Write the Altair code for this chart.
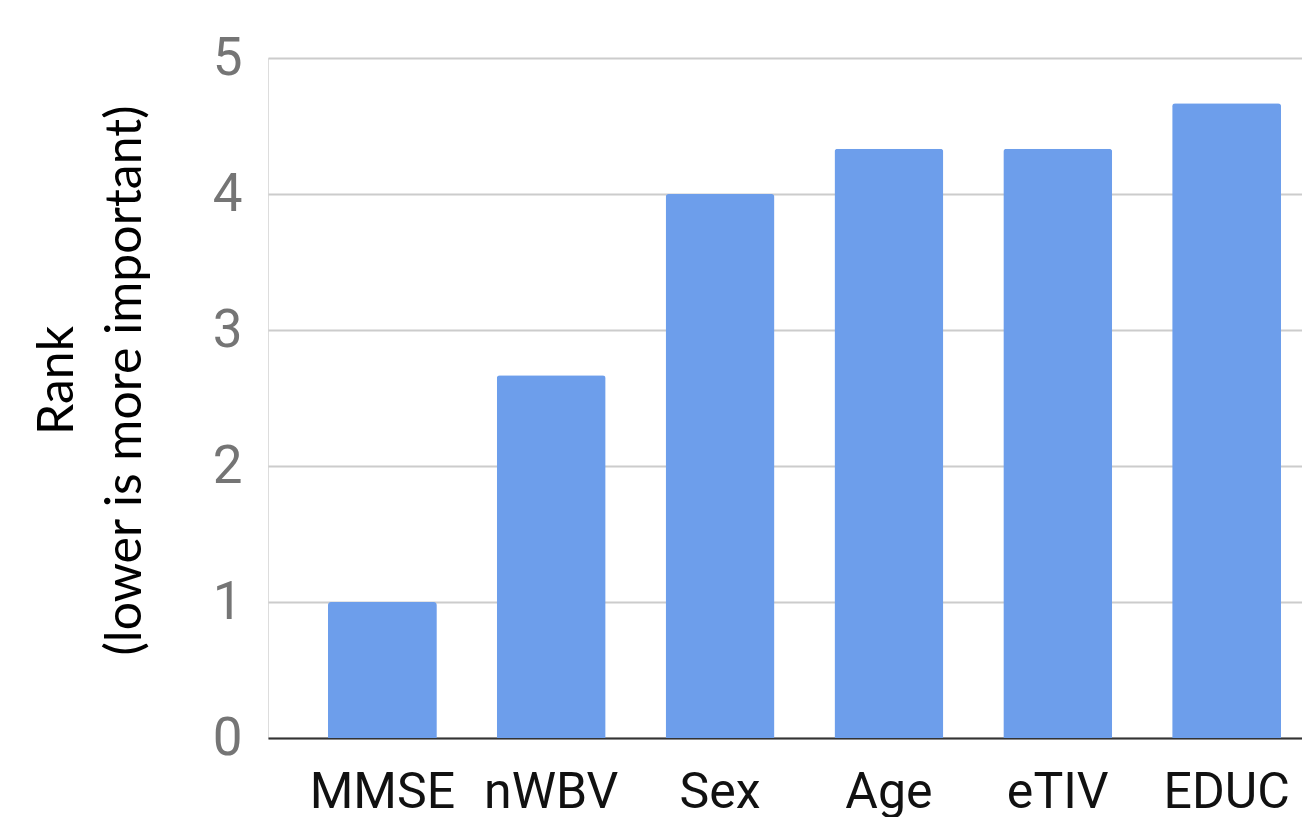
import altair as alt
import pandas as pd

# Mean feature rank per variable (lower rank = more important)
features = ["MMSE", "nWBV", "Sex", "Age", "eTIV", "EDUC"]
ranks = [1.0, 2.667, 4.0, 4.333, 4.333, 4.667]

df = pd.DataFrame({"feature": features, "rank": ranks})

label_font = "Roboto"

bars = alt.Chart(df).mark_bar(
    color="#6d9eeb",
    cornerRadiusTopLeft=3,
    cornerRadiusTopRight=3,
).encode(
    x=alt.X(
        "feature:N",
        sort=features,
        scale=alt.Scale(range=[0, 1073], paddingInner=0.355, paddingOuter=0.355),
        axis=alt.Axis(
            title=None,
            labelAngle=0,
            labelFont=label_font,
            labelFontSize=50,
            labelColor="#111111",
            labelPadding=29,
            ticks=False,
            domainColor="#333333",
            domainWidth=2,
            grid=False,
        ),
    ),
    y=alt.Y(
        "rank:Q",
        scale=alt.Scale(domain=[0, 5], nice=False),
        axis=alt.Axis(
            values=[0, 1, 2, 3, 4, 5],
            title=["Rank", "(lower is more important)"],
            titleFont="Lato",
            titleFontSize=50,
            titleFontWeight="normal",
            titleColor="#000000",
            titleLineHeight=68,
            titleAngle=-90,
            titleAlign="center",
            titleBaseline="bottom",
            titleX=-186,
            titleY=322,
            labelFont=label_font,
            labelFontSize=53,
            labelColor="#757575",
            labelPadding=26,
            ticks=False,
            domain=False,
            gridColor="#cccccc",
            gridWidth=2,
        ),
    ),
)

chart = bars.properties(
    width=1034,
    height=680,
    autosize=alt.AutoSizeParams(type="none"),
    padding={"left": 268, "top": 58, "right": 0, "bottom": 79},
).configure_view(stroke=None).configure(background="white")

chart.save("out.html", embed_options={"renderer": "svg", "actions": False})
